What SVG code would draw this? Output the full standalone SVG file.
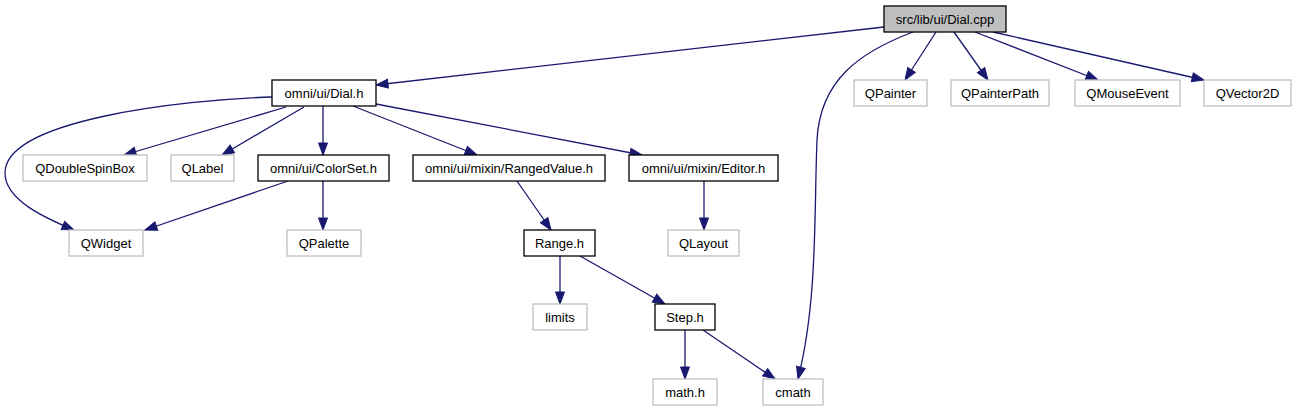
<svg xmlns="http://www.w3.org/2000/svg" width="1296" height="411" viewBox="0 0 1296 411">
<defs>
<marker id="ah" markerUnits="userSpaceOnUse" markerWidth="14" markerHeight="12" refX="12" refY="0" viewBox="0 -6 14 12" orient="auto" overflow="visible">
<path d="M0,-4.5 L12,0 L0,4.5 Z" fill="#191970" stroke="#191970" stroke-width="1"/>
</marker>
<style>
.e{fill:none;stroke:#191970;stroke-width:1.3;marker-end:url(#ah)}
.n rect{fill:#ffffff;stroke:#000000;stroke-width:1.3}
.u rect{fill:#ffffff;stroke:#bfbfbf;stroke-width:1.3}
.m rect{fill:#bfbfbf;stroke:#000000;stroke-width:1.3}
text{font-family:"Liberation Sans",Arial,Helvetica,sans-serif;font-size:13px;fill:#000000;text-anchor:middle}
</style>
</defs>
<rect width="1296" height="411" fill="#ffffff"/>
<g id="edges">
<path class="e" d="M884,27 L376,85"/>
<path class="e" d="M272,97 C180,100 5,120 5,173 C5,200 45,218 74,230"/>
<path class="e" d="M286,107 L124,155"/>
<path class="e" d="M304,107 L222,155"/>
<path class="e" d="M323,106 L323,155"/>
<path class="e" d="M353,106 L477,155"/>
<path class="e" d="M376,104 L642,155"/>
<path class="e" d="M288,181 L145,230"/>
<path class="e" d="M323,181 L323,230"/>
<path class="e" d="M517,181 L551,230"/>
<path class="e" d="M704,181 L704,230"/>
<path class="e" d="M560,256 L560,304"/>
<path class="e" d="M580,256 L665,304"/>
<path class="e" d="M685,330 L685,379"/>
<path class="e" d="M703,330 L775,379"/>
<path class="e" d="M913,32 C860,52 820,80 817,140 C814,210 818,300 798,379"/>
<path class="e" d="M936,32 L905,80"/>
<path class="e" d="M954,32 L988,80"/>
<path class="e" d="M975,32 L1098,80"/>
<path class="e" d="M993,32 L1204,80"/>
</g>
<g id="n_dialcpp" class="m"><rect x="884" y="6" width="122" height="26"/><text x="945" y="24">src/lib/ui/Dial.cpp</text></g>
<g id="n_dialh" class="n"><rect x="272" y="80" width="104" height="26"/><text x="324" y="98">omni/ui/Dial.h</text></g>
<g id="n_qpainter" class="u"><rect x="854" y="80" width="73" height="26"/><text x="890.5" y="98">QPainter</text></g>
<g id="n_qpainterpath" class="u"><rect x="951" y="80" width="98" height="26"/><text x="1000" y="98">QPainterPath</text></g>
<g id="n_qmouseevent" class="u"><rect x="1075" y="80" width="105" height="26"/><text x="1127.5" y="98">QMouseEvent</text></g>
<g id="n_qvector2d" class="u"><rect x="1204" y="80" width="87" height="26"/><text x="1247.5" y="98">QVector2D</text></g>
<g id="n_qdoublespinbox" class="u"><rect x="23" y="155" width="124" height="26"/><text x="85" y="173">QDoubleSpinBox</text></g>
<g id="n_qlabel" class="u"><rect x="171" y="155" width="63" height="26"/><text x="202.5" y="173">QLabel</text></g>
<g id="n_colorset" class="n"><rect x="258" y="155" width="131" height="26"/><text x="323.5" y="173">omni/ui/ColorSet.h</text></g>
<g id="n_rangedvalue" class="n"><rect x="413" y="155" width="192" height="26"/><text x="509" y="173">omni/ui/mixin/RangedValue.h</text></g>
<g id="n_editor" class="n"><rect x="629" y="155" width="149" height="26"/><text x="703.5" y="173">omni/ui/mixin/Editor.h</text></g>
<g id="n_qwidget" class="u"><rect x="69" y="230" width="74" height="26"/><text x="106" y="248">QWidget</text></g>
<g id="n_qpalette" class="u"><rect x="287" y="230" width="74" height="26"/><text x="324" y="248">QPalette</text></g>
<g id="n_range" class="n"><rect x="524" y="230" width="71" height="26"/><text x="559.5" y="248">Range.h</text></g>
<g id="n_qlayout" class="u"><rect x="668" y="230" width="71" height="26"/><text x="703.5" y="248">QLayout</text></g>
<g id="n_limits" class="u"><rect x="533" y="304" width="54" height="26"/><text x="560" y="322">limits</text></g>
<g id="n_step" class="n"><rect x="655" y="304" width="60" height="26"/><text x="685" y="322">Step.h</text></g>
<g id="n_math" class="u"><rect x="653" y="379" width="64" height="26"/><text x="685" y="397">math.h</text></g>
<g id="n_cmath" class="u"><rect x="763" y="379" width="60" height="26"/><text x="793" y="397">cmath</text></g>
</svg>
